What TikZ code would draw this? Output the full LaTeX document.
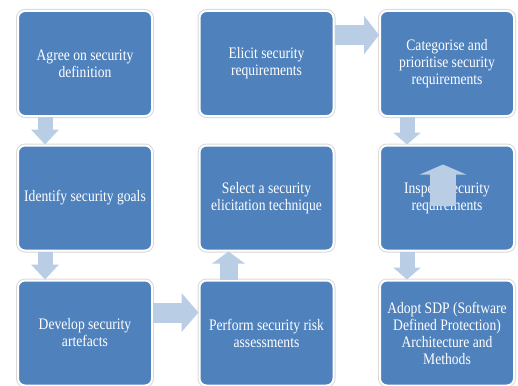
\documentclass[tikz,border=0pt]{standalone}
\usepackage{fontspec}
\setmainfont[FakeStretch=0.85]{Liberation Serif}
\usepackage{xcolor}
\usepackage{tikz}
\usetikzlibrary{arrows.meta}

\definecolor{boxblue}{HTML}{4F81BD}
\definecolor{arrowblue}{HTML}{B9CDE5}

\begin{document}
\begin{tikzpicture}[x=1pt,y=-1pt,
        box/.style={fill=boxblue, draw=white, line width=2pt, rounded corners=7pt,
            preaction={draw=gray!30, line width=4pt},
            minimum width=134pt, minimum height=105pt, inner sep=0pt,
            text=white, align=center, font=\fontsize{16}{17}\selectfont},
        flow/.style args={#1/#2/#3}{draw=arrowblue, line width=#1,
            -{Triangle[width=#2 0 0, length=#3 0 0]}}]
                \useasboundingbox (0,0) rectangle (518,385);

                \node[box] (agree) at (85,63.5) {Agree on security\\definition};
                \node[box] (goals) at (85,198) {Identify security goals};
                \node[box] (artefacts) at (85,333) {Develop security\\artefacts};

                \node[box] (elicit) at (266.5,63.5) {Elicit security\\requirements};
                \node[box] (technique) at (266.5,198) {Select a security\\elicitation technique};
                \node[box] (risk) at (266.5,333) {Perform security risk\\assessments};

                \node[box] (categorise) at (447,63.5) {Categorise and\\prioritise security\\requirements};
                \node[box] (inspect) at (447,198) {Inspect security\\requirements};
                \node[box] (sdp) at (447,333) {Adopt SDP (Software\\Defined Protection)\\Architecture and\\Methods};

                \draw[flow=15pt/27pt/15pt] ([xshift=28pt]agree.south west) -- ([xshift=28pt]goals.north west);
                \draw[flow=15pt/27pt/15pt] ([xshift=28pt]goals.south west) -- ([xshift=28pt]artefacts.north west);
                \draw[flow=20pt/38pt/17pt] ([yshift=-33pt]artefacts.north east) -- ([yshift=-33pt]risk.north west);
                \draw[flow=18pt/32pt/12pt] ([xshift=30pt]risk.north west) -- ([xshift=30pt]technique.south west);
                \draw[flow=20pt/38pt/15pt] ([yshift=-25pt]elicit.north east) -- ([yshift=-25pt]categorise.north west);
                \draw[flow=15pt/27pt/12pt] ([xshift=28pt]categorise.south west) -- ([xshift=28pt]inspect.north west);
                \draw[flow=15pt/27pt/12pt] ([xshift=28pt]inspect.south west) -- ([xshift=28pt]sdp.north west);

                % arrow lying over the inspect box
                \draw[flow=26pt/46pt/10pt] ([xshift=64pt,yshift=-61pt]inspect.north west) -- ([xshift=64pt,yshift=-20pt]inspect.north west);

\end{tikzpicture}
\end{document}
